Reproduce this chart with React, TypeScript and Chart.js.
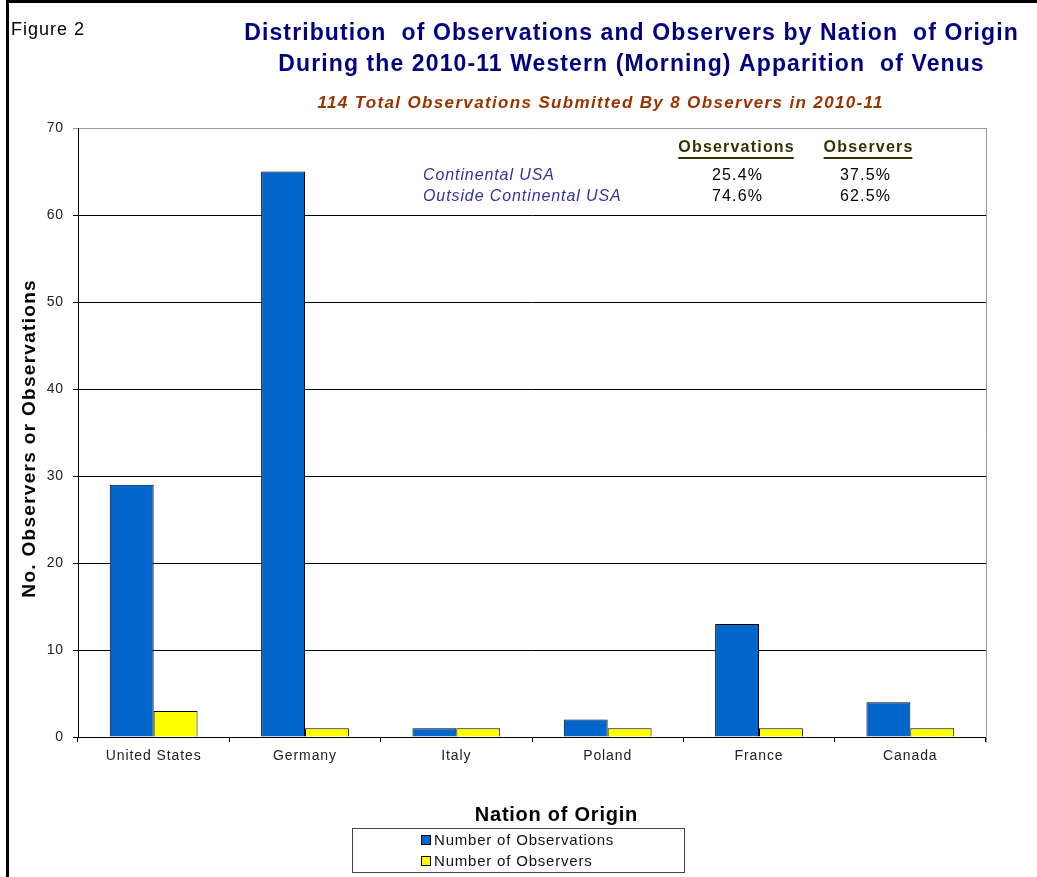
import React, { useEffect, useRef } from "react";
import { Chart, registerables } from "chart.js";

Chart.register(...registerables);

const categories = ["United States", "Germany", "Italy", "Poland", "France", "Canada"];
const observations = [29, 65, 1, 2, 13, 4];
const observers = [3, 1, 1, 1, 1, 1];
const seriesNames = ["Number of Observations", "Number of Observers"];
const seriesColors = ["#0066CC", "#FFFF00"];

const titleLines = [
  "Distribution  of Observations and Observers by Nation  of Origin",
  "During the 2010-11 Western (Morning) Apparition  of Venus",
];
const subtitle = "114 Total Observations Submitted By 8 Observers in 2010-11";
const tableHeaders = ["Observations", "Observers"];
const tableRows = ["Continental USA", "Outside Continental USA"];
const observationShares = ["25.4%", "74.6%"];
const observerShares = ["37.5%", "62.5%"];

const FONT = '"Liberation Sans", Arial, sans-serif';

// Draws text with extra tracking; centred text is nudged so the trailing gap doesn't shift it.
function drawText(ctx: any, s: string, x: number, y: number, spacing: number) {
  ctx.letterSpacing = `${spacing}px`;
  const dx = ctx.textAlign === "center" ? spacing / 2 : 0;
  ctx.fillText(s, x + dx, y);
  return ctx.measureText(s).width;
}

const tracking = {
  id: "tracking",
  beforeDraw(chart: any) {
    chart.ctx.letterSpacing = "0.9px";
  },
};

const decorations = {
  id: "decorations",
  afterDraw(chart: any) {
    const { ctx, chartArea } = chart;
    ctx.save();

    // outer frame
    ctx.strokeStyle = "#000";
    ctx.lineWidth = 3;
    ctx.strokeRect(7.5, 1.5, 1100, 1000);

    // right edge of plot area
    ctx.strokeStyle = "#999";
    ctx.lineWidth = 1;
    ctx.beginPath();
    ctx.moveTo(Math.round(chartArea.right) + 0.5, chartArea.top);
    ctx.lineTo(Math.round(chartArea.right) + 0.5, chartArea.bottom + 6);
    ctx.stroke();

    ctx.textBaseline = "middle";

    // figure label
    ctx.fillStyle = "#000";
    ctx.font = `18px ${FONT}`;
    ctx.textAlign = "left";
    drawText(ctx, "Figure 2", 11, 30, 1.0);

    // main title
    ctx.fillStyle = "#000080";
    ctx.font = `bold 23px ${FONT}`;
    ctx.textAlign = "center";
    drawText(ctx, titleLines[0], 631, 34, 1.1);
    drawText(ctx, titleLines[1], 631, 65, 1.1);

    // subtitle
    ctx.fillStyle = "#993300";
    ctx.font = `italic bold 17px ${FONT}`;
    drawText(ctx, subtitle, 600, 103, 1.35);

    // y axis title
    ctx.save();
    ctx.translate(30, 439);
    ctx.rotate(-Math.PI / 2);
    ctx.fillStyle = "#000";
    ctx.font = `bold 19px ${FONT}`;
    drawText(ctx, "No. Observers or Observations", 0, 0, 1.3);
    ctx.restore();

    // summary table
    ctx.font = `bold 16px ${FONT}`;
    ctx.fillStyle = "#333300";
    ctx.strokeStyle = "#333300";
    ctx.lineWidth = 2;
    const headerX = [736, 868];
    tableHeaders.forEach((h, i) => {
      ctx.textAlign = "center";
      const w = drawText(ctx, h, headerX[i], 148, 1.2) - 1.2;
      ctx.beginPath();
      ctx.moveTo(headerX[i] - w / 2, 158);
      ctx.lineTo(headerX[i] + w / 2, 158);
      ctx.stroke();
    });
    const rowY = [176, 197];
    tableRows.forEach((r, i) => {
      ctx.textAlign = "left";
      ctx.fillStyle = "#333399";
      ctx.font = `italic 16px ${FONT}`;
      drawText(ctx, r, 423, rowY[i], 0.9);
      ctx.textAlign = "center";
      ctx.fillStyle = "#000";
      ctx.font = `16px ${FONT}`;
      drawText(ctx, observationShares[i], 737, rowY[i], 1.2);
      drawText(ctx, observerShares[i], 865, rowY[i], 1.2);
    });

    // x axis title
    ctx.fillStyle = "#000";
    ctx.font = `bold 20px ${FONT}`;
    ctx.textAlign = "center";
    drawText(ctx, "Nation of Origin", 556, 815, 0.75);

    // legend box
    ctx.strokeStyle = "#444";
    ctx.lineWidth = 1;
    ctx.strokeRect(352.5, 828.5, 332, 44);
    ctx.font = `15px ${FONT}`;
    ctx.textAlign = "left";
    const legendY = [840, 861];
    seriesNames.forEach((n, i) => {
      ctx.fillStyle = seriesColors[i];
      ctx.fillRect(422, legendY[i] - 4, 8, 8);
      ctx.strokeStyle = "#000";
      ctx.strokeRect(421.5, legendY[i] - 4.5, 9, 9);
      ctx.fillStyle = "#111";
      drawText(ctx, n, 434, legendY[i] + 1, 0.8);
    });

    ctx.letterSpacing = "0px";
    ctx.restore();
  },
};

export default function App() {
  const canvasRef = useRef<HTMLCanvasElement | null>(null);

  useEffect(() => {
    document.body.style.margin = "0";
    const canvas = canvasRef.current;
    if (!canvas) return;
    const chart = new Chart(canvas, {
      type: "bar",
      data: {
        labels: categories,
        datasets: [
          {
            label: seriesNames[0],
            data: observations,
            backgroundColor: seriesColors[0],
            borderColor: "#000",
            borderWidth: 1,
          },
          {
            label: seriesNames[1],
            data: observers,
            backgroundColor: seriesColors[1],
            borderColor: "#000",
            borderWidth: 1,
          },
        ],
      },
      options: {
        responsive: false,
        animation: false,
        layout: { padding: { top: 128, right: 51, bottom: 0, left: 0 } },
        plugins: {
          legend: { display: false },
          title: { display: false },
          tooltip: { enabled: false },
        },
        datasets: {
          bar: { categoryPercentage: 0.58, barPercentage: 1.0 },
        },
        scales: {
          x: {
            offset: true,
            afterFit: (s: any) => {
              s.height = 140;
            },
            grid: {
              offset: true,
              drawOnChartArea: false,
              drawTicks: true,
              tickLength: 5,
              color: "#000",
            },
            border: { color: "#000", width: 1 },
            ticks: {
              color: "#222",
              font: { family: FONT, size: 14 },
              padding: 6,
              maxRotation: 0,
            },
          },
          y: {
            min: 0,
            max: 70,
            afterFit: (s: any) => {
              s.width = 78;
            },
            grid: {
              color: (c: any) => (c.tick && c.tick.value === 70 ? "#999" : "#000"),
              tickLength: 5,
              lineWidth: 1,
            },
            border: { color: "#000", width: 1 },
            ticks: {
              stepSize: 10,
              color: "#222",
              font: { family: FONT, size: 14 },
              padding: 9,
            },
          },
        },
      },
      plugins: [tracking, decorations],
    });
    return () => chart.destroy();
  }, []);

  return <canvas ref={canvasRef} width={1037} height={877} style={{ display: "block" }} />;
}
